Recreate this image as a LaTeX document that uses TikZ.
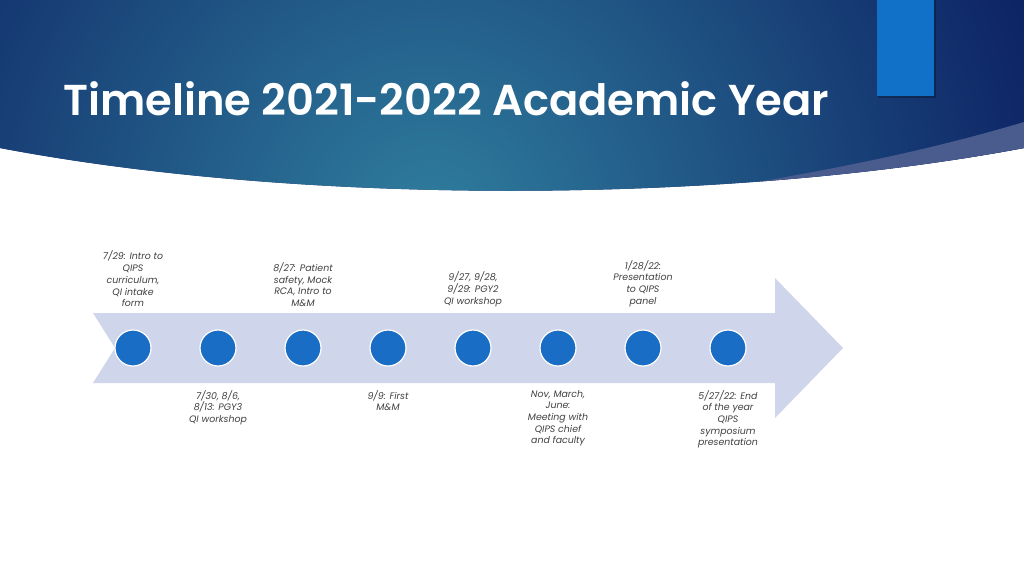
\documentclass[tikz,border=0pt]{standalone}
\usepackage{fontspec}
\setmainfont{Poppins}
\newfontfamily\titlefont{Poppins SemiBold}
\begin{document}
\begin{tikzpicture}[x=1pt,y=-1pt,
  dot/.style={circle,fill=dotblue,draw=white,line width=1.2pt,minimum size=36pt,inner sep=0pt},
  lbl/.style={align=center,inner sep=0pt,text=labelgray,font=\fontsize{9.4}{11.7}\selectfont\itshape}]
\definecolor{navy}{HTML}{0D2264}
\definecolor{teal}{HTML}{2F7E9E}
\definecolor{band}{HTML}{4A5B8E}
\definecolor{accent}{HTML}{1170C8}
\definecolor{arrowfill}{HTML}{CFD5EA}
\definecolor{dotblue}{HTML}{1A6DC4}
\definecolor{labelgray}{HTML}{404040}
\useasboundingbox (0,0) rectangle (1024,576);
\fill[white] (0,0) rectangle (1024,576);
% header
\begin{scope}
  \clip (0,0) -- (1024,0) -- (1024,148) .. controls (720,205) and (300,205) .. (0,148) -- cycle;
  \fill[navy] (0,0) rectangle (1024,260);
  \shade[inner color=teal, outer color=navy] (430,225) circle (640);
  \fill[band] (1024,122) .. controls (930,150) and (840,168) .. (740,185) -- (740,260) -- (1024,260) -- cycle;
\end{scope}
% accent rectangle
\fill[black,opacity=0.25] (878,0) rectangle (936,98);
\fill[accent] (877,0) rectangle (934,96);
% title
\node[anchor=base west,inner sep=0pt,text=white,font=\fontsize{43.2}{50}\selectfont\titlefont] (title) at (63,115) {Timeline 2021-2022 Academic Year};
% arrow
\fill[arrowfill] (93,313) -- (775,313) -- (775,278) -- (843,348) -- (775,418) -- (775,383) -- (93,383) -- (115,348) -- cycle;
% dots
\foreach \i/\x in {1/133,2/218,3/303,4/388,5/473,6/558,7/643,8/728}
  \node[dot] (c\i) at (\x,348) {};
% labels above
\node[lbl,anchor=south] (l1) at (133,307) {7/29: Intro to\\QIPS\\curriculum,\\QI intake\\form};
\node[lbl,anchor=south] (l3) at (303,307) {8/27: Patient\\safety, Mock\\RCA, Intro to\\M\&M};
\node[lbl,anchor=south] (l5) at (473,307) {9/27, 9/28,\\9/29: PGY2\\QI workshop};
\node[lbl,anchor=south] (l7) at (643,307) {1/28/22:\\Presentation\\to QIPS\\panel};
% labels below
\node[lbl,anchor=north] (l2) at (218,390) {7/30, 8/6,\\8/13: PGY3\\QI workshop};
\node[lbl,anchor=north] (l4) at (388,390) {9/9: First\\M\&M};
\node[lbl,anchor=north] (l6) at (558,390) {Nov, March,\\June:\\Meeting with\\QIPS chief\\and faculty};
\node[lbl,anchor=north] (l8) at (728,390) {5/27/22: End\\of the year\\QIPS\\symposium\\presentation};
\end{tikzpicture}
\end{document}
